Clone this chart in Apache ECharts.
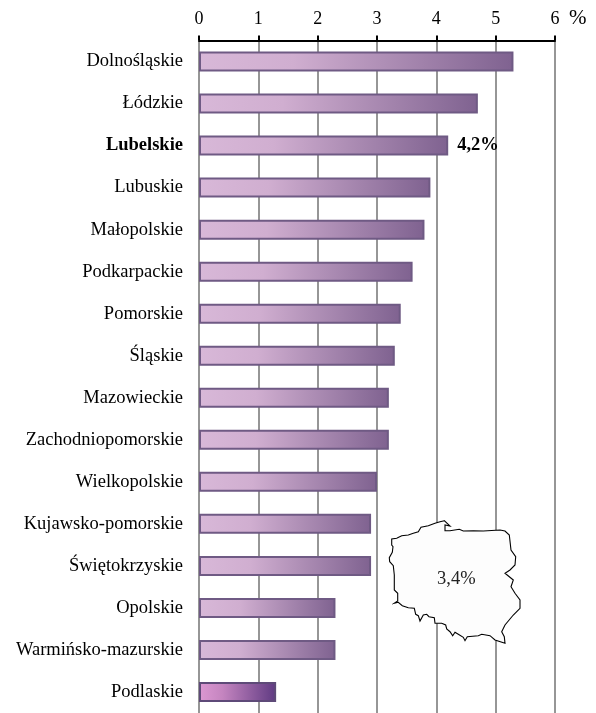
<!DOCTYPE html>
<html><head><meta charset="utf-8">
<style>html,body{margin:0;padding:0;background:#fff}#c{width:596px;height:713px}</style>
<script src="https://cdn.jsdelivr.net/npm/echarts@6/dist/echarts.min.js"></script>
</head><body><div id="c"></div>
<script>
const categories = ['Dolnośląskie','Łódzkie','Lubelskie','Lubuskie','Małopolskie','Podkarpackie','Pomorskie','Śląskie','Mazowieckie','Zachodniopomorskie','Wielkopolskie','Kujawsko-pomorskie','Świętokrzyskie','Opolskie','Warmińsko-mazurskie','Podlaskie'];
const values = [5.3,4.7,4.2,3.9,3.8,3.6,3.4,3.3,3.2,3.2,3.0,2.9,2.9,2.3,2.3,1.3];
const highlighted = 'Lubelskie';
const lowest = 'Podlaskie';
const highlightLabel = '4,2%';
const nationalLabel = '3,4%';
const FONT = '"Liberation Serif", "Times New Roman", serif';
// Inset outline of Poland (decorative, not data)
const outline = [[444.3,520.7],[440,521.7],[435,523.3],[428.3,525.7],[421,527.3],[418.3,531.7],[413.3,533.3],[408.3,535],[401.7,535.7],[396.7,538.3],[391.7,539],[391.7,545],[393,546.7],[392.3,552.3],[389.3,557.7],[389.7,561.7],[393.3,565.7],[394.3,575],[394.3,590],[397.7,593.3],[397.7,601],[394.3,603.3],[398.3,602.3],[402.3,605.7],[408.3,607.7],[414.3,608.3],[415.7,614.3],[418.3,615.7],[420,621],[423.3,615],[426.7,614.3],[429,616.7],[434.3,617.7],[435,623.3],[441.7,623.3],[445.7,625],[446.7,629],[450,631.7],[452.7,635.7],[455,632.3],[458.3,634.3],[463.3,637.3],[465,640.7],[467.3,636.7],[478.3,635.7],[481.7,634.3],[490,635.7],[495,640],[505,643.3],[504.3,636.7],[501.7,631.7],[505,625],[513.3,615],[520,608.3],[520,600],[515,593.3],[511,586.7],[513.3,580],[505,573.3],[510,570],[515,565],[515.7,556.7],[511,550],[509.3,535],[505,531],[500,530],[483.3,531],[473.3,530.7],[463.3,531],[459.3,529.3],[450,530.7],[445,530.7],[445,525],[450,526]];

const grad = (a,b,c) => ({type:'linear',x:0,y:0,x2:1,y2:0,colorStops:[{offset:0,color:a},{offset:0.3,color:b},{offset:1,color:c}]});
const chart = echarts.init(document.getElementById('c'),null,{renderer:'canvas'});
chart.setOption({
  animation:false,
  backgroundColor:'#fff',
  grid:{left:199,right:41,top:40.5,height:675},
  xAxis:{type:'value',position:'top',min:0,max:6,interval:1,
    axisLine:{show:true,lineStyle:{color:'#000',width:2}},
    axisTick:{show:true,length:5,lineStyle:{color:'#000',width:2}},
    axisLabel:{color:'#000',fontFamily:FONT,fontSize:18,margin:12},
    splitLine:{show:true,lineStyle:{color:'#969696',width:2}}},
  yAxis:{type:'category',inverse:true,
    data:categories.map(c=>c===highlighted?{value:c,textStyle:{fontWeight:'bold'}}:c),
    axisLine:{show:false},axisTick:{show:false},
    axisLabel:{color:'#000',fontFamily:FONT,fontSize:18.5,margin:16,padding:[2,0,0,0]}},
  series:[{type:'bar',barWidth:20,
    data:values.map((v,i)=>{
      const low=categories[i]===lowest;
      const o={value:v,itemStyle:{
        color:low?grad('#dc98d2','#c585c0','#5f3a82'):grad('#d8b8d8','#d0aed0','#7f6290'),
        borderColor:low?'#5e4a78':'#6f5a84',borderWidth:2}};
      if(categories[i]===highlighted){o.label={show:true,position:'right',distance:9,padding:[3,0,0,0],formatter:highlightLabel,color:'#000',fontFamily:FONT,fontSize:18.5,fontWeight:'bold'};}
      return o;})}],
  graphic:[
    {type:'text',left:569,top:8,z:10,style:{text:'%',fill:'#000',font:'21px '+FONT}},
    {type:'polygon',z:10,shape:{points:outline},style:{fill:'#fdfdfd',stroke:'#000',lineWidth:1.1}},
    {type:'text',z:11,left:437,top:570,style:{text:nationalLabel,fill:'#222',font:'18.5px '+FONT}}
  ]
});
</script></body></html>
